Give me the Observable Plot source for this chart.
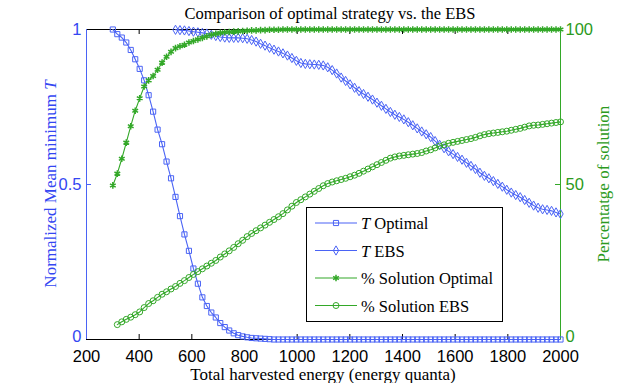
<!DOCTYPE html>
<html><head><meta charset="utf-8">
<script src="https://cdn.jsdelivr.net/npm/d3@7"></script>
<script src="https://cdn.jsdelivr.net/npm/@observablehq/plot@0.6"></script>
<style>body{margin:0;background:#fff;}</style>
</head><body><div id="chart"></div>
<script>
// ---- data ----
const energy = [300,317,334,351,368,385,402,419,436,453,
470,487,504,521,538,555,572,589,606,623,
640,657,674,691,708,725,742,759,776,793,
810,827,844,861,878,895,912,929,946,963,
980,997,1014,1031,1048,1065,1082,1099,1116,1133,
1150,1167,1184,1201,1218,1235,1252,1269,1286,1303,
1320,1337,1354,1371,1388,1405,1422,1439,1456,1473,
1490,1507,1524,1541,1558,1575,1592,1609,1626,1643,
1660,1677,1694,1711,1728,1745,1762,1779,1796,1813,
1830,1847,1864,1881,1898,1915,1932,1949,1966,1983,
2000];

// T Optimal (normalized), from 300
const tOptimal = [1.000,0.985,0.974,0.958,0.934,0.904,0.873,0.836,0.788,0.735,
0.677,0.630,0.574,0.520,0.460,0.398,0.339,0.286,0.229,0.180,
0.136,0.108,0.087,0.071,0.053,0.040,0.029,0.020,0.014,0.010,
0.007,0.005,0.004,0.003,0.002,0.001,0,0,0,0,
0,0,0,0,0,0,0,0,0,0,
0,0,0,0,0,0,0,0,0,0,
0,0,0,0,0,0,0,0,0,0,
0,0,0,0,0,0,0,0,0,0,
0,0,0,0,0,0,0,0,0,0,
0,0,0,0,0,0,0,0,0,0,
0];

// T EBS (normalized), from 538
const tEbs = [0.999,0.998,0.997,0.995,0.993,0.991,0.989,0.987,0.983,0.979,
0.976,0.974,0.973,0.973,0.973,0.972,0.970,0.966,0.961,0.954,
0.948,0.941,0.935,0.929,0.923,0.916,0.908,0.899,0.892,0.889,
0.888,0.887,0.886,0.884,0.878,0.869,0.858,0.845,0.834,0.823,
0.812,0.801,0.792,0.783,0.774,0.764,0.754,0.744,0.734,0.725,
0.718,0.710,0.701,0.691,0.681,0.671,0.662,0.653,0.640,0.628,
0.617,0.607,0.598,0.589,0.580,0.570,0.560,0.550,0.538,0.528,
0.520,0.511,0.502,0.493,0.483,0.474,0.466,0.459,0.450,0.441,
0.432,0.425,0.420,0.418,0.415,0.410,0.405];

// % Solution Optimal, from 300
const solOptimal = [49.7,53.5,58.3,63.5,68.8,73.8,77.8,81.6,83.6,85.0,
87.0,89.3,91.2,92.8,94.0,94.6,95.1,95.8,96.3,96.8,
97.3,97.8,98.3,98.6,98.9,99.1,99.2,99.3,99.4,99.5,
99.6,99.7,99.7,99.8,99.8,99.9,99.9,99.9,100,100,
100,100,100,100,100,100,100,100,100,100,
100,100,100,100,100,100,100,100,100,100,
100,100,100,100,100,100,100,100,100,100,
100,100,100,100,100,100,100,100,100,100,
100,100,100,100,100,100,100,100,100,100,
100,100,100,100,100,100,100,100,100,100,
100];

// % Solution EBS, from 317
const solEbs = [4.8,5.7,6.5,7.2,8.0,8.9,10.3,11.6,12.5,13.6,
14.6,15.4,16.3,17.1,18.1,19.0,20.0,21.0,21.9,22.8,
23.7,24.6,25.5,26.6,27.6,28.6,29.7,30.9,32.0,33.2,
34.2,35.1,36.0,36.9,37.8,38.7,39.6,40.6,41.8,43.0,
44.2,45.1,46.0,46.9,47.8,48.7,49.6,50.3,50.8,51.2,
51.6,52.0,52.5,53.0,53.6,54.3,55.0,55.7,56.4,57.1,
57.8,58.5,58.9,59.2,59.4,59.6,59.8,60.0,60.3,60.8,
61.2,61.8,62.4,62.8,63.3,63.6,63.9,64.2,64.5,64.8,
65.2,65.7,66.1,66.4,66.6,66.8,67.0,67.2,67.5,67.8,
68.1,68.5,68.9,69.1,69.2,69.4,69.6,69.8,70.0,70.2];

const xTicks = [200,400,600,800,1000,1200,1400,1600,1800,2000];
const leftTicks = [0,0.5,1];
const rightTicks = [0,50,100];
const titleText = "Comparison of optimal strategy vs. the EBS";
const xLabel = "Total harvested energy (energy quanta)";
const yLeftLabel = "Normalized Mean minimum ";
const yRightLabel = "Percentatge of solution";
const legendLabels = [["T"," Optimal"],["T"," EBS"],["","% Solution Optimal"],["","% Solution EBS"]];

// ---- tables ----
const rows = (arr, start) => arr.map((v,i)=>({e: energy[start+i], v}));
const dOpt = rows(tOptimal, 0);
const dEbs = rows(tEbs, 14);
const dSolOpt = rows(solOptimal, 0);
const dSolEbs = rows(solEbs, 1);

const blue = "#4a63f5", green = "#33a828", blueText = "#3447f2", greenText = "#2b9a20";
const serif = "'Liberation Serif','Times New Roman',serif";

const W=623, H=383, ML=86, MR=63, MT=29, MB=44;
const R = {sq: 2.9, di: 2.8, st: 3.1, ci: 3.0};
const fs = 16.5;

const plot = Plot.plot({
  width: W, height: H, marginLeft: ML, marginRight: MR, marginTop: MT, marginBottom: MB,
  x: {domain: [200, 2000]},
  y: {domain: [0, 1]},
  style: {fontFamily: "'Liberation Sans',Arial,sans-serif", fontSize: "17px", background: "#fff", overflow: "visible"},
  marks: [
    Plot.axisX({ticks: xTicks, tickSize: 0, tickPadding: 10.5, label: null, color: "#000", fontSize: fs, tickFormat: d => String(d)}),
    // left axis: zero label nudged up slightly so it does not collide with "200"
    Plot.axisY({ticks: leftTicks.filter(d => d !== 0), tickSize: 0, tickPadding: 5, label: null, color: blueText, fontSize: fs, tickFormat: d => String(d)}),
    Plot.axisY({ticks: leftTicks.filter(d => d === 0), tickSize: 0, tickPadding: 5, label: null, color: blueText, fontSize: fs, dy: -2.5, tickFormat: d => String(d)}),
    Plot.axisY({anchor: "right", ticks: rightTicks.filter(d => d !== 0).map(d => d/100), tickSize: 0, tickPadding: 5, label: null, color: greenText, fontSize: fs, tickFormat: d => String(Math.round(d*100))}),
    Plot.axisY({anchor: "right", ticks: rightTicks.filter(d => d === 0).map(d => d/100), tickSize: 0, tickPadding: 5, label: null, color: greenText, fontSize: fs, dy: -2.5, tickFormat: d => String(Math.round(d*100))}),
    Plot.ruleX(xTicks, {stroke: "#000", insetTop: 305}),
    Plot.ruleX(xTicks, {stroke: "#000", insetBottom: 305}),
    Plot.ruleY([0.5], {stroke: blue, insetRight: 469}),
    Plot.ruleY([0.5], {stroke: green, insetLeft: 469}),
    Plot.ruleY([0, 1], {stroke: "#000"}),
    Plot.ruleX([200], {stroke: blue}),
    Plot.ruleX([2000], {stroke: green}),
    // T Optimal
    Plot.line(dOpt, {x: "e", y: "v", stroke: blue, strokeWidth: 1.1}),
    Plot.dot(dOpt, {x: "e", y: "v", symbol: "square", r: R.sq, stroke: blue, fill: "none", strokeWidth: 1}),
    // T EBS
    Plot.line(dEbs, {x: "e", y: "v", stroke: blue, strokeWidth: 1.1}),
    Plot.dot(dEbs, {x: "e", y: "v", symbol: "diamond", r: R.di, stroke: blue, fill: "none", strokeWidth: 1}),
    // % Solution Optimal
    Plot.line(dSolOpt, {x: "e", y: d => d.v/100, stroke: green, strokeWidth: 1.1}),
    Plot.dot(dSolOpt, {x: "e", y: d => d.v/100, symbol: "asterisk", r: R.st, stroke: green, fill: "none", strokeWidth: 1.5}),
    // % Solution EBS
    Plot.line(dSolEbs, {x: "e", y: d => d.v/100, stroke: green, strokeWidth: 1.1}),
    Plot.dot(dSolEbs, {x: "e", y: d => d.v/100, symbol: "circle", r: R.ci, stroke: green, fill: "none", strokeWidth: 1})
  ]
});

document.getElementById("chart").appendChild(plot);
const svg = d3.select(plot);

// title
svg.append("text").attr("x", 330).attr("y", 13).attr("text-anchor", "middle").attr("dominant-baseline", "central")
  .attr("font-family", serif).attr("font-size", 16.5).attr("fill", "#000").text(titleText);
// x label
svg.append("text").attr("x", 323).attr("y", 374).attr("text-anchor", "middle").attr("dominant-baseline", "central")
  .attr("font-family", serif).attr("font-size", 17).attr("fill", "#000").text(xLabel);
// left y label
const yl = svg.append("text").attr("transform", "translate(50,184) rotate(-90)").attr("text-anchor", "middle")
  .attr("dominant-baseline", "central").attr("font-family", serif).attr("font-size", 17).attr("fill", blueText);
yl.append("tspan").text(yLeftLabel);
yl.append("tspan").attr("font-style", "italic").text("T");
// right y label
svg.append("text").attr("transform", "translate(603,184) rotate(-90)").attr("text-anchor", "middle")
  .attr("dominant-baseline", "central").attr("font-family", serif).attr("font-size", 17).attr("fill", greenText).text(yRightLabel);

// legend
const lg = svg.append("g");
lg.append("rect").attr("x", 306.5).attr("y", 207.5).attr("width", 196).attr("height", 114)
  .attr("fill", "#fff").attr("stroke", "#000").attr("stroke-width", 1);
const symSize = r => Math.PI * r * r;
const legendStyles = [
  {color: blue, sym: d3.symbolSquare, r: R.sq, w: 1},
  {color: blue, sym: d3.symbolDiamond, r: R.di, w: 1},
  {color: green, sym: d3.symbolAsterisk, r: R.st, w: 1.5},
  {color: green, sym: d3.symbolCircle, r: R.ci, w: 1}
];
const rowY = [223, 250.5, 278, 305.5];
legendLabels.forEach((lab, i) => {
  const s = legendStyles[i], y = rowY[i];
  lg.append("line").attr("x1", 315).attr("x2", 357).attr("y1", y).attr("y2", y).attr("stroke", s.color).attr("stroke-width", 1.1);
  lg.append("path").attr("d", d3.symbol(s.sym, symSize(s.r))()).attr("transform", `translate(336,${y})`)
    .attr("fill", "none").attr("stroke", s.color).attr("stroke-width", s.w);
  const t = lg.append("text").attr("x", 361).attr("y", y).attr("dominant-baseline", "central").attr("text-anchor", "start")
    .attr("font-family", serif).attr("font-size", 16.5).attr("fill", "#000");
  if (lab[0]) t.append("tspan").attr("font-style", "italic").text(lab[0]);
  t.append("tspan").text(lab[1]);
});
</script>
</body></html>
